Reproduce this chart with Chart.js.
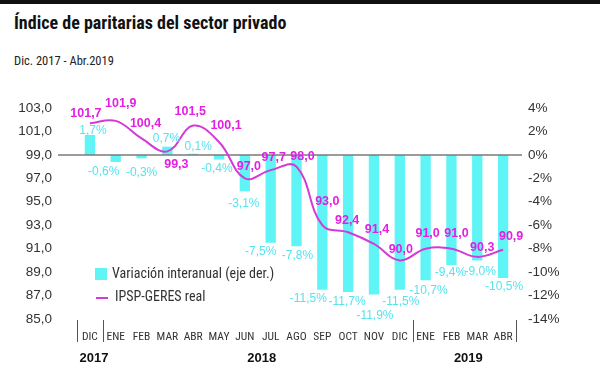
<!DOCTYPE html>
<html>
<head>
<meta charset="utf-8">
<script src="https://cdn.jsdelivr.net/npm/chart.js@4/dist/chart.umd.min.js"></script>
<style>
  html,body{margin:0;padding:0;background:#fff;}
  #wrap{position:relative;width:600px;height:365px;overflow:hidden;}
  #topbar{position:absolute;left:0;top:0;width:600px;height:4px;background:#111;}
  #title{position:absolute;left:14px;top:12px;font-family:'Liberation Sans Narrow','Roboto Condensed',Roboto,sans-serif;font-weight:bold;font-size:18px;color:#111;white-space:nowrap;}
  #subtitle{position:absolute;left:14px;top:53px;font-family:'Liberation Sans Narrow','Roboto Condensed',Roboto,sans-serif;font-size:12.5px;color:#222;white-space:nowrap;}
  canvas{position:absolute;left:0;top:0;}
</style>
</head>
<body>
<div id="wrap">
  <div id="topbar"></div>
  <div id="title">Índice de paritarias del sector privado</div>
  <div id="subtitle">Dic. 2017 - Abr.2019</div>
  <canvas id="c" width="600" height="365"></canvas>
</div>
<script>
// ---- data ----
const categories = ['DIC','ENE','FEB','MAR','ABR','MAY','JUN','JUL','AGO','SEP','OCT','NOV','DIC','ENE','FEB','MAR','ABR'];
const variacionInteranual = [1.7,-0.6,-0.3,0.7,0.1,-0.4,-3.1,-7.5,-7.8,-11.5,-11.7,-11.9,-11.5,-10.7,-9.4,-9.0,-10.5];
const ipspGeresReal = [101.7,101.9,100.4,99.3,101.5,100.1,97.0,97.7,98.0,93.0,92.4,91.4,90.0,91.0,91.0,90.3,90.9];
const years = ['2017','2018','2019'];
const yearStartIndex = [0,1,13];
const yearEndIndex = [0,12,16];
const leftTicks = [85,87,89,91,93,95,97,99,101,103];
const rightTicks = [-14,-12,-10,-8,-6,-4,-2,0,2,4];

// label placement offsets (px) relative to the mark
const lineLabelDX = [-4,5,4,9,-3,7,4,3,6,5,-1,3,1,2,5,5,8];
const lineLabelDY = [-10,-17,-15,13,-14,-16,-12,-13,-10,-24,-12,-14,-11,-15,-15,-9,-13];
const barLabelDX = [3,-12,0,-1,5,-2,-1,-10,1,-14,-1,1,1,3,-1,3,1];
const barLabelDY = [-4,10,14,-8,-7,9,12,9,9,9,10,21,12,10,8,11,9];

const NARROW = "'Liberation Sans Narrow','Roboto Condensed',Roboto,sans-serif";
const SANS = "'Liberation Sans',Arial,sans-serif";
const CYAN = '#5ff4f6';
const CYAN_TXT = '#55e3ee';
const MAG = '#d23bd6';
const MAG_TXT = '#e21fe2';
const fmt1 = v => v.toFixed(1).replace('.', ',');

const overlay = {
  id: 'overlay',
  beforeDatasetDraw(chart, args) {
    if (args.index !== 1) return;
    const ctx = chart.ctx, yL = chart.scales.yL, ca = chart.chartArea;
    const y0 = yL.getPixelForValue(99);
    ctx.save();
    ctx.strokeStyle = '#7a7a7a';
    ctx.lineWidth = 1.5;
    ctx.beginPath();
    ctx.moveTo(ca.left - 19, y0);
    ctx.lineTo(ca.right + 6, y0);
    ctx.stroke();
    ctx.restore();
  },
  afterDatasetsDraw(chart) {
    const ctx = chart.ctx, x = chart.scales.x, yL = chart.scales.yL, yR = chart.scales.yR, ca = chart.chartArea;
    ctx.save();
    ctx.textAlign = 'center';
    ctx.textBaseline = 'middle';
    // bar labels
    ctx.font = '12px ' + SANS;
    ctx.fillStyle = CYAN_TXT;
    variacionInteranual.forEach((v, i) => {
      const px = x.getPixelForValue(i) + barLabelDX[i];
      const py = yR.getPixelForValue(v) + barLabelDY[i];
      ctx.fillText(fmt1(v) + '%', px, py);
    });
    // line labels
    ctx.font = 'bold 12.5px ' + SANS;
    ctx.fillStyle = MAG_TXT;
    ipspGeresReal.forEach((v, i) => {
      const px = x.getPixelForValue(i) + lineLabelDX[i];
      const py = yL.getPixelForValue(v) + lineLabelDY[i];
      ctx.fillText(fmt1(v), px, py);
    });
    // legend
    const ds = chart.data.datasets;
    ctx.textAlign = 'left';
    ctx.font = '14px ' + NARROW;
    ctx.fillStyle = CYAN;
    ctx.fillRect(95, 268, 12, 12);
    ctx.fillStyle = '#333';
    ctx.fillText(ds[0].label, 112, 274.5);
    ctx.strokeStyle = MAG;
    ctx.lineWidth = 2;
    ctx.beginPath(); ctx.moveTo(96, 298); ctx.lineTo(108, 298); ctx.stroke();
    ctx.fillStyle = '#333';
    ctx.fillText(ds[1].label, 115, 297.5);
    // separators
    const half = (x.getPixelForValue(1) - x.getPixelForValue(0)) / 2;
    const seps = [x.getPixelForValue(0) - half, x.getPixelForValue(0) + half,
                  x.getPixelForValue(12) + half, x.getPixelForValue(16) + half];
    ctx.strokeStyle = '#555';
    ctx.lineWidth = 1;
    seps.forEach(sx => {
      ctx.beginPath(); ctx.moveTo(Math.round(sx) + 0.5, ca.bottom + 1); ctx.lineTo(Math.round(sx) + 0.5, ca.bottom + 23); ctx.stroke();
    });
    // years
    ctx.textAlign = 'center';
    ctx.font = 'bold 13px ' + SANS;
    ctx.fillStyle = '#111';
    years.forEach((yr, k) => {
      const mid = (x.getPixelForValue(yearStartIndex[k]) + x.getPixelForValue(yearEndIndex[k])) / 2 + 4;
      ctx.fillText(yr, mid, 358);
    });
    ctx.restore();
  }
};

new Chart(document.getElementById('c'), {
  data: {
    labels: categories,
    datasets: [
      {
        type: 'bar',
        label: 'Variación interanual (eje der.)',
        data: variacionInteranual,
        yAxisID: 'yR',
        backgroundColor: CYAN,
        borderWidth: 0,
        barPercentage: 0.4,
        categoryPercentage: 1,
        order: 2
      },
      {
        type: 'line',
        label: 'IPSP-GERES real',
        data: ipspGeresReal,
        yAxisID: 'yL',
        borderColor: MAG,
        borderWidth: 2,
        pointRadius: 0,
        tension: 0.4,
        fill: false,
        order: 1
      }
    ]
  },
  options: {
    responsive: false,
    animation: false,
    layout: { padding: { top: 108, left: 0, right: 0, bottom: 0 } },
    plugins: { legend: { display: false }, tooltip: { enabled: false }, title: { display: false } },
    scales: {
      x: {
        type: 'category',
        offset: true,
        grid: { display: false, drawTicks: false },
        border: { display: false },
        ticks: { font: { family: NARROW, size: 11.5 }, color: '#333', padding: 11, maxRotation: 0, autoSkip: false },
        afterFit(s) { s.height = 46; }
      },
      yL: {
        type: 'linear',
        position: 'left',
        min: 85, max: 103,
        afterBuildTicks(s) { s.ticks = leftTicks.map(v => ({ value: v })); },
        grid: { display: false, drawTicks: false },
        border: { display: false },
        ticks: { font: { family: SANS, size: 13.5 }, color: '#333', padding: 25, callback: v => fmt1(v) },
        afterFit(s) { s.width = 77; }
      },
      yR: {
        type: 'linear',
        position: 'right',
        min: -14, max: 4,
        afterBuildTicks(s) { s.ticks = rightTicks.map(v => ({ value: v })); },
        grid: { display: false, drawTicks: false },
        border: { display: false },
        ticks: { font: { family: SANS, size: 13.5 }, color: '#333', padding: 12, callback: v => v + '%' },
        afterFit(s) { s.width = 84; }
      }
    }
  },
  plugins: [overlay]
});
</script>
</body>
</html>
